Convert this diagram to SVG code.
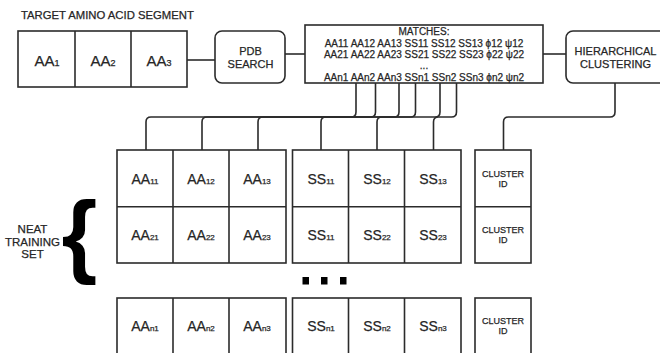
<svg xmlns="http://www.w3.org/2000/svg" width="660" height="353" viewBox="0 0 660 353">
<style>
text{font-family:"Liberation Sans",Arial,sans-serif;fill:#262626;stroke:#262626;stroke-width:0.25}
.box{fill:#fff;stroke:#2b2b2b;stroke-width:1.6}
.ln{fill:none;stroke:#2b2b2b;stroke-width:1.6}
.big{font-size:14px;text-anchor:middle}
.sub{font-size:8px}
.lbl{font-size:11px;text-anchor:middle}
.m{font-size:10px;text-anchor:middle}
.cl{font-size:9px;text-anchor:middle}
.neat{font-size:11.5px;text-anchor:middle}
</style>
<rect width="660" height="353" fill="#fff"/>
<text x="21" y="18.5" style="font-size:11.3px">TARGET AMINO ACID SEGMENT</text>

<g id="connectors">
<line class="ln" x1="187" y1="60" x2="215" y2="60"/>
<line class="ln" x1="285" y1="54" x2="305" y2="54"/>
<line class="ln" x1="543" y1="54" x2="566" y2="54"/>
<path class="ln" d="M356,83 V112 Q356,117 351,117 H151 Q146,117 146,122 V150"/>
<path class="ln" d="M375.5,83 V112 Q375.5,117 370.5,117 H207 Q202,117 202,122 V150"/>
<path class="ln" d="M399,83 V112 Q399,117 394,117 H263 Q258,117 258,122 V150"/>
<path class="ln" d="M415.5,83 V112 Q415.5,117 410.5,117 H326 Q321,117 321,122 V150"/>
<path class="ln" d="M440,83 V112 Q440,117 435,117 H382 Q377,117 377,122 V150"/>
<path class="ln" d="M456.5,83 V112 Q456.5,117 451.5,117 H438.5 Q433.5,117 433.5,122 V150"/>
<path class="ln" d="M615,83 V112 Q615,117 610,117 H508.5 Q503.5,117 503.5,122 V150"/>
</g>

<g id="target">
<rect class="box" x="18" y="31" width="169" height="56"/>
<line class="ln" x1="75" y1="31" x2="75" y2="87"/>
<line class="ln" x1="131" y1="31" x2="131" y2="87"/>
<text class="big" x="47" y="65.5" style="font-size:15px">AA<tspan class="sub" style="font-size:9px">1</tspan></text>
<text class="big" x="103" y="65.5" style="font-size:15px">AA<tspan class="sub" style="font-size:9px">2</tspan></text>
<text class="big" x="159" y="65.5" style="font-size:15px">AA<tspan class="sub" style="font-size:9px">3</tspan></text>
</g>

<g id="pdb">
<rect class="box" x="215" y="31" width="70" height="52" rx="7"/>
<text class="lbl" x="250.5" y="55">PDB</text>
<text class="lbl" x="250.5" y="67.5">SEARCH</text>
</g>

<g id="matches">
<rect class="box" x="305" y="25" width="238" height="58"/>
<text class="m" x="424" y="35">MATCHES:</text>
<text class="m" x="424" y="46.5">AA11 AA12 AA13 SS11 SS12 SS13 ϕ12 ψ12</text>
<text class="m" x="424" y="57.5">AA21 AA22 AA23 SS21 SS22 SS23 ϕ22 ψ22</text>
<text class="m" x="424" y="69">...</text>
<text class="m" x="424" y="80.5">AAn1 AAn2 AAn3 SSn1 SSn2 SSn3 ϕn2 ψn2</text>
</g>

<g id="clustering">
<rect class="box" x="566" y="31" width="100" height="52" rx="7"/>
<text class="lbl" x="615.5" y="55">HIERARCHICAL</text>
<text class="lbl" x="615.5" y="67.5">CLUSTERING</text>
</g>

<g id="neat">
<text class="neat" x="32.5" y="233">NEAT</text>
<text class="neat" x="32.5" y="245.5">TRAINING</text>
<text class="neat" x="32.5" y="258">SET</text>
<text x="61.5" y="266" style="font-size:92px;font-weight:bold;fill:#000;stroke:none">{</text>
</g>

<g id="aa-grid">
<rect class="box" x="117" y="150" width="169" height="113"/>
<line class="ln" x1="173" y1="150" x2="173" y2="263"/>
<line class="ln" x1="229" y1="150" x2="229" y2="263"/>
<line class="ln" x1="117" y1="206.7" x2="286" y2="206.7"/>
<text class="big" x="145" y="184">AA<tspan class="sub">11</tspan></text>
<text class="big" x="201" y="184">AA<tspan class="sub">12</tspan></text>
<text class="big" x="257" y="184">AA<tspan class="sub">13</tspan></text>
<text class="big" x="145" y="240">AA<tspan class="sub">21</tspan></text>
<text class="big" x="201" y="240">AA<tspan class="sub">22</tspan></text>
<text class="big" x="257" y="240">AA<tspan class="sub">23</tspan></text>
</g>

<g id="ss-grid">
<rect class="box" x="292.5" y="150" width="168.5" height="113"/>
<line class="ln" x1="348.5" y1="150" x2="348.5" y2="263"/>
<line class="ln" x1="404.5" y1="150" x2="404.5" y2="263"/>
<line class="ln" x1="292.5" y1="206.7" x2="461" y2="206.7"/>
<text class="big" x="321" y="184">SS<tspan class="sub">11</tspan></text>
<text class="big" x="377" y="184">SS<tspan class="sub">12</tspan></text>
<text class="big" x="433" y="184">SS<tspan class="sub">13</tspan></text>
<text class="big" x="321" y="240">SS<tspan class="sub">11</tspan></text>
<text class="big" x="377" y="240">SS<tspan class="sub">22</tspan></text>
<text class="big" x="433" y="240">SS<tspan class="sub">23</tspan></text>
</g>

<g id="cluster-grid">
<rect class="box" x="475" y="150" width="56" height="113"/>
<line class="ln" x1="475" y1="206.7" x2="531" y2="206.7"/>
<text class="cl" x="503" y="176.5">CLUSTER</text>
<text class="cl" x="503" y="187">ID</text>
<text class="cl" x="503" y="232.5">CLUSTER</text>
<text class="cl" x="503" y="243">ID</text>
</g>

<g id="ellipsis">
<rect x="302.5" y="277" width="6.5" height="7.5" fill="#000"/>
<rect x="321" y="277" width="6.5" height="7.5" fill="#000"/>
<rect x="340" y="277" width="6.5" height="7.5" fill="#000"/>
</g>

<g id="row-n">
<rect class="box" x="117" y="298" width="169" height="60"/>
<line class="ln" x1="173" y1="298" x2="173" y2="358"/>
<line class="ln" x1="229" y1="298" x2="229" y2="358"/>
<text class="big" x="145" y="331">AA<tspan class="sub">n1</tspan></text>
<text class="big" x="201" y="331">AA<tspan class="sub">n2</tspan></text>
<text class="big" x="257" y="331">AA<tspan class="sub">n3</tspan></text>
<rect class="box" x="292.5" y="298" width="168.5" height="60"/>
<line class="ln" x1="348.5" y1="298" x2="348.5" y2="358"/>
<line class="ln" x1="404.5" y1="298" x2="404.5" y2="358"/>
<text class="big" x="321" y="331">SS<tspan class="sub">n1</tspan></text>
<text class="big" x="377" y="331">SS<tspan class="sub">n2</tspan></text>
<text class="big" x="433" y="331">SS<tspan class="sub">n3</tspan></text>
<rect class="box" x="475" y="298" width="56" height="60"/>
<text class="cl" x="503" y="323.5">CLUSTER</text>
<text class="cl" x="503" y="334">ID</text>
</g>
</svg>
